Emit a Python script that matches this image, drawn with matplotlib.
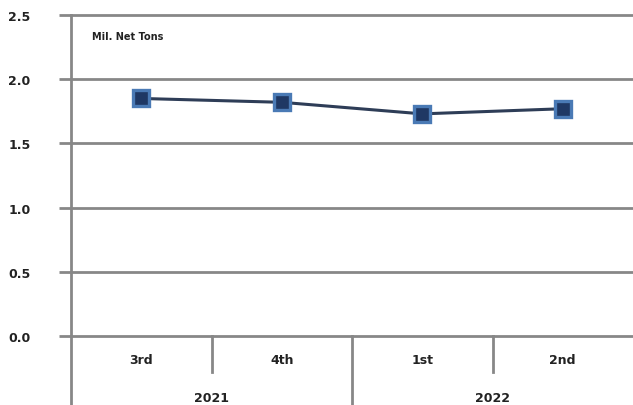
import matplotlib
matplotlib.use("Agg")
import matplotlib.pyplot as plt

quarters = ["3rd", "4th", "1st", "2nd"]
years = ["2021", "2022"]
tons = [1.85, 1.82, 1.73, 1.77]
yticks = [0.0, 0.5, 1.0, 1.5, 2.0, 2.5]

W, H = 633, 406
fig = plt.figure(figsize=(W / 100, H / 100), dpi=100)
ax = fig.add_axes([71 / W, 1 - 337 / H, (633 - 71) / W, (337 - 16) / H])

grid_c = "#878787"
xs = [i + 0.5 for i in range(len(quarters))]
ax.plot(xs, tons, color="#2E3D57", lw=2.2, marker="s", ms=11,
        mfc="#1F3864", mec="#4A7AB5", mew=2.4, zorder=3)

ax.set_xlim(0, len(quarters))
ax.set_ylim(0, 2.5)
ax.set_yticks(yticks)
ax.set_yticklabels([f"{v:.1f}" for v in yticks], fontsize=9, fontweight="bold",
                   color="#222222")
for v in yticks:
    ax.axhline(v, color=grid_c, lw=2, clip_on=False, zorder=1)
ax.tick_params(axis="y", length=9, width=2, color=grid_c, pad=20)
ax.set_xticks([])
for s in ["top", "right", "bottom"]:
    ax.spines[s].set_visible(False)
ax.spines["left"].set_color(grid_c)
ax.spines["left"].set_linewidth(2)

tr = ax.get_xaxis_transform()
ph = 337 - 16
# category separators
ax.plot([0, 0], [0, -69 / ph], transform=tr, color=grid_c, lw=2, clip_on=False)
for x in [1, 3]:
    ax.plot([x, x], [0, -36 / ph], transform=tr, color=grid_c, lw=2, clip_on=False)
ax.plot([2, 2], [0, -69 / ph], transform=tr, color=grid_c, lw=2, clip_on=False)
for x, q in zip(xs, quarters):
    ax.text(x, -23 / ph, q, transform=tr, ha="center", va="center",
            fontsize=9, fontweight="bold", color="#222222")
for i, y in enumerate(years):
    ax.text(1 + 2 * i, -61 / ph, y, transform=tr, ha="center", va="center",
            fontsize=9, fontweight="bold", color="#222222")

ax.text(21 / 562, 1 - 21 / ph, "Mil. Net Tons", transform=ax.transAxes,
        ha="left", va="center", fontsize=7, fontweight="bold", color="#222222")

fig.savefig("out.png", dpi=100)
